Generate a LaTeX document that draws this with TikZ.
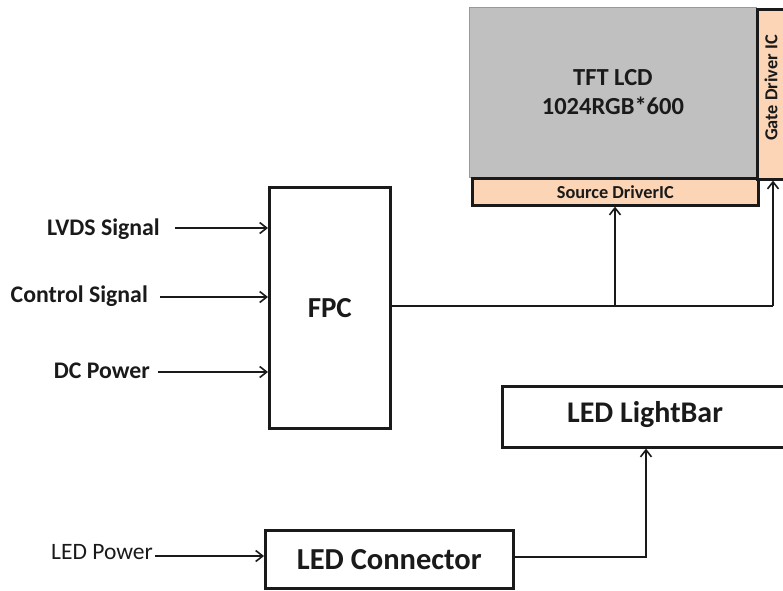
\documentclass[tikz,border=0pt]{standalone}
\usepackage{fontspec}
\setmainfont{Carlito}
\usetikzlibrary{arrows.meta}
\definecolor{lcdgray}{HTML}{C0C0C0}
\definecolor{peach}{HTML}{FBD5B5}
\definecolor{ink}{HTML}{1A1A1A}
\tikzset{
  blk/.style={draw=ink, line width=2.6pt, rectangle, inner sep=0pt, text=ink, font=\bfseries\fontsize{29}{31}\selectfont},
  lbl/.style={inner sep=0pt, text=ink, font=\bfseries\fontsize{23.8}{26}\selectfont, anchor=east},
  arr/.style={draw=ink, line width=1.6pt, -{Straight Barb[length=7pt,width=11pt,line width=1.6pt]}},
  wire/.style={draw=ink, line width=1.6pt},
}
\begin{document}
\begin{tikzpicture}[x=1pt,y=-1pt]
\useasboundingbox (0,0) rectangle (783,590);
\begin{scope}
\clip (0,0) rectangle (783,590);
% LCD panel
\node[draw=gray!80, line width=0.8pt, fill=lcdgray, minimum width=287pt, minimum height=170pt, anchor=north west, inner sep=0pt, align=center, text=ink, font=\bfseries\fontsize{24.5}{29}\selectfont] (lcd) at (469,7) {TFT LCD\\1024RGB*600};
\node[blk, fill=peach, minimum width=286pt, minimum height=27pt, anchor=north west, font=\bfseries\fontsize{18.3}{20}\selectfont] (src) at (471,177) {Source DriverIC};
\node[blk, fill=peach, minimum width=34pt, minimum height=170pt, anchor=north west] (gate) at (756,8) {};
\node[rotate=90, text=ink, font=\bfseries\fontsize{18.3}{20}\selectfont, inner sep=0pt] (gatetxt) at (771,88) {Gate Driver IC};
% FPC
\node[blk, fill=white, minimum width=121pt, minimum height=241pt, anchor=north west] (fpc) at (268,186) {FPC};
% LED boxes
\node[blk, fill=white, minimum width=290pt, minimum height=61pt, anchor=north west] (bar) at (501,385) {};
\node[text=ink, font=\bfseries\fontsize{30}{32}\selectfont, inner sep=0pt] (bartxt) at (645,415) {LED LightBar};
\node[blk, fill=white, minimum width=248pt, minimum height=58pt, anchor=north west, font=\bfseries\fontsize{30.5}{32}\selectfont] (conn) at (264,529) {LED Connector};
% input labels
\node[lbl] (lvds) at (160,229) {LVDS Signal};
\node[lbl] (ctrl) at (148,296) {Control Signal};
\node[lbl] (dc) at (150,371) {DC Power};
\node[lbl, font=\fontsize{23.5}{26}\selectfont] (ledp) at (153,552) {LED Power};
\coordinate (lvdsS) at (175,228);
\coordinate (ctrlS) at (160,297);
\coordinate (dcS) at (158,372);
\coordinate (ledS) at (155,556);
\draw[arr] (lvdsS) -- (lvdsS -| fpc.west);
\draw[arr] (ctrlS) -- (ctrlS -| fpc.west);
\draw[arr] (dcS) -- (dcS -| fpc.west);
\draw[arr] (ledS) -- (ledS -| conn.west);
% FPC outputs
\coordinate (j1) at (615,306);
\coordinate (j2) at (773,306);
\draw[wire] (fpc.east |- j1) -- (j2);
\draw[arr] (j1) -- (j1 |- src.south);
\draw[arr] (j2) -- (j2 |- gate.south);
% connector to lightbar
\coordinate (j3) at (646,557);
\draw[arr] (conn.east |- j3) -- (j3) -- (j3 |- bar.south);
\end{scope}
\end{tikzpicture}
\end{document}
